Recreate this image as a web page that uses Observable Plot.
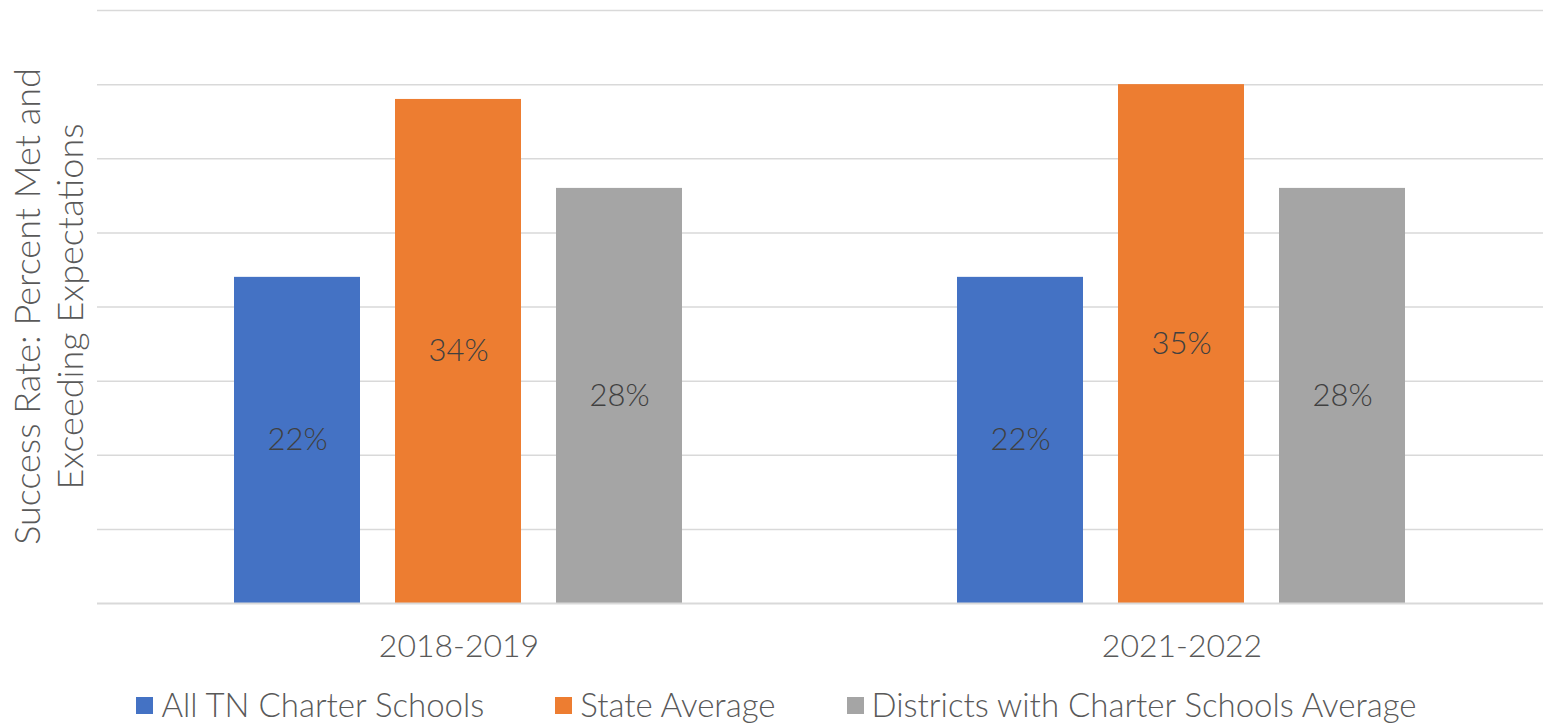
<!DOCTYPE html>
<html>
<head>
<meta charset="utf-8">
<script src="https://cdn.jsdelivr.net/npm/d3@7"></script>
<script src="https://cdn.jsdelivr.net/npm/@observablehq/plot@0.6"></script>
<style>
  html, body { margin: 0; padding: 0; background: #fff; }
  body { width: 1543px; height: 726px; overflow: hidden; font-family: Lato, "Open Sans", sans-serif; }
  #legend { display: flex; justify-content: center; align-items: center; gap: 71px; height: 56px; margin-left: 10px;
    font-size: 33px; font-weight: 300; color: #595959; font-family: Lato, sans-serif; }
  .item { display: flex; align-items: center; gap: 8px; }
  .sw { width: 17px; height: 17px; display: inline-block; margin-top: 3px; }
</style>
</head>
<body>
<div id="chart"></div>
<div id="legend"></div>
<script>
const years = ["2018-2019", "2021-2022"];
const series = ["All TN Charter Schools", "State Average", "Districts with Charter Schools Average"];
const colors = ["#4472C4", "#ED7D31", "#A5A5A5"];
const charter = [22, 22];
const stateAvg = [34, 35];
const districts = [28, 28];
const yTicks = [0, 5, 10, 15, 20, 25, 30, 35, 40];
const yLabel = ["Success Rate: Percent Met and", "Exceeding Expectations"];

const seriesValues = [charter, stateAvg, districts];
const data = [];
years.forEach((yr, i) => series.forEach((s, j) => data.push({year: yr, series: s, value: seriesValues[j][i]})));

const W = 1543, H = 676;
const chart = Plot.plot({
  width: W,
  height: H,
  marginTop: 10,
  marginLeft: 96,
  marginRight: 0,
  marginBottom: H - 603,
  style: {fontFamily: "Lato, sans-serif", background: "#fff", fontWeight: 300},
  fx: {domain: years, padding: 0, axis: "bottom", label: null, tickSize: 0, tickPadding: 31, fontSize: 32},
  x: {domain: series, axis: null, paddingInner: 0.217, paddingOuter: 0.853},
  y: {domain: [0, 40], axis: null},
  color: {domain: series, range: colors},
  marks: [
    Plot.ruleY(yTicks.slice(1), {stroke: "#d9d9d9", strokeWidth: 1.5}),
    Plot.barY(data, {fx: "year", x: "series", y: "value", fill: "series"}),
    Plot.ruleY([0], {stroke: "#d9d9d9", strokeWidth: 2}),
    Plot.text(data, {fx: "year", x: "series", y: d => d.value / 2, text: d => `${d.value}%`,
      fill: "#404040", fontSize: 31, fontWeight: 300})
  ]
});
d3.select(chart).selectAll("g[aria-label='fx-axis tick label']").attr("fill", "#595959").style("font-size", "32px").style("font-weight", "300");

// Y axis title (two lines, rotated)
const cy = (10 + 603) / 2;
const t = d3.select(chart).append("text")
  .attr("transform", `translate(0,${cy}) rotate(-90)`)
  .attr("text-anchor", "middle")
  .attr("fill", "#595959")
  .style("font-size", "36px")
  .style("font-weight", "300")
  .style("font-family", "Lato, sans-serif");
yLabel.forEach((line, i) => t.append("tspan").attr("x", 0).attr("y", 40 + i * 43).text(line));

document.getElementById("chart").appendChild(chart);

const legend = d3.select("#legend");
series.forEach((s, i) => {
  const it = legend.append("div").attr("class", "item");
  it.append("span").attr("class", "sw").style("background", colors[i]);
  it.append("span").text(s);
});
</script>
</body>
</html>
